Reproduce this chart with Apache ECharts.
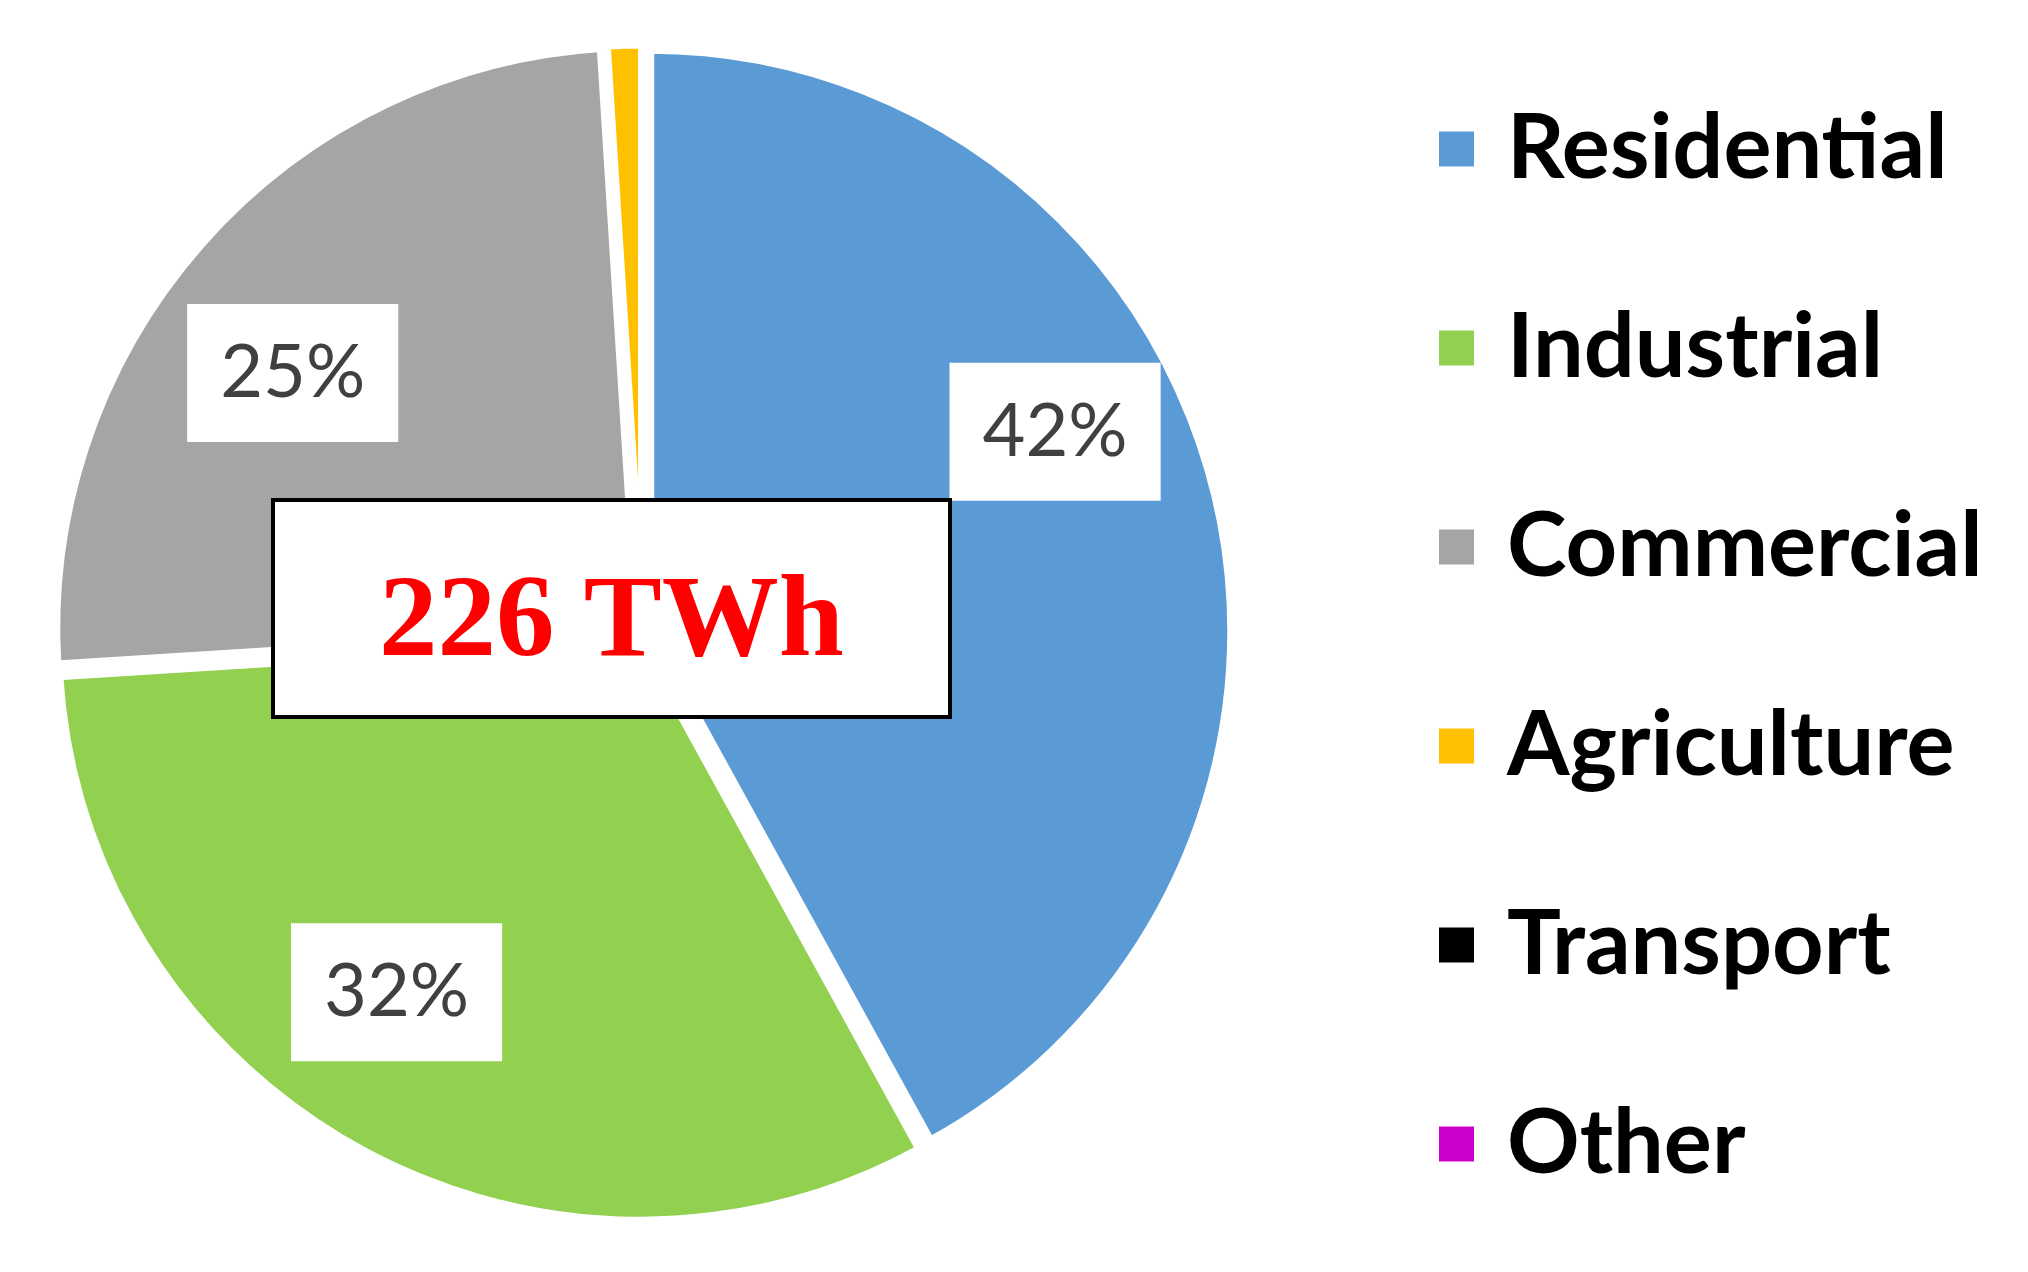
<!DOCTYPE html>
<html>
<head>
<meta charset="utf-8">
<script src="https://cdn.jsdelivr.net/npm/echarts@6/dist/echarts.min.js"></script>
<style>
html,body{margin:0;padding:0;background:#fff;}
#chart{width:2028px;height:1272px;}
</style>
</head>
<body>
<div id="chart"></div>
<script>
// ---- data ----
const categories = ['Residential', 'Industrial', 'Commercial', 'Agriculture', 'Transport', 'Other'];
const shares = [42, 32, 25, 1, 0, 0];
const totalLabel = '226 TWh';

// ---- styles ----
const colors = ['#5B9BD5', '#92D050', '#A5A5A5', '#FFC000', '#000000', '#CC00CC'];
const labelShift = [[-18, -92], [-34, -30], [-19, 32], [0, 0], [0, 0], [0, 0]];

const chart = echarts.init(document.getElementById('chart'));

const sliceData = categories.map((name, i) => ({
  name: name,
  value: shares[i],
  selected: true,
  itemStyle: { color: colors[i] }
}));
const labelData = categories.map((name, i) => ({
  name: name,
  value: shares[i],
  label: { show: shares[i] >= 5 }
}));

chart.setOption({
  animation: false,
  backgroundColor: '#ffffff',
  title: {
    text: totalLabel,
    left: 273,
    top: 500,
    padding: [66, 106, 34, 106],
    backgroundColor: '#ffffff',
    borderColor: '#000000',
    borderWidth: 4,
    textStyle: {
      fontFamily: 'Liberation Serif',
      fontWeight: 'bold',
      fontSize: 117,
      lineHeight: 117,
      color: '#FF0000'
    },
    z: 10
  },
  legend: {
    orient: 'vertical',
    left: 1437,
    top: 104,
    padding: 0,
    itemWidth: 37,
    itemHeight: 37,
    itemGap: 109,
    icon: 'rect',
    selectedMode: false,
    data: categories,
    textStyle: {
      fontFamily: 'Lato',
      fontWeight: 'bold',
      fontSize: 90,
      lineHeight: 90,
      color: '#000000',
      padding: [0, 0, 0, 27]
    }
  },
  series: [
    {
      type: 'pie',
      center: [643, 633],
      radius: [0, 582],
      startAngle: 90,
      clockwise: true,
      selectedMode: 'multiple',
      selectedOffset: 7,
      silent: true,
      emphasis: { disabled: true },
      itemStyle: { borderColor: '#ffffff', borderWidth: 9 },
      label: { show: false },
      labelLine: { show: false },
      data: sliceData
    },
    {
      type: 'pie',
      center: [644, 634],
      radius: [296, 584],
      startAngle: 90,
      clockwise: true,
      silent: true,
      percentPrecision: 0,
      emphasis: { disabled: true },
      itemStyle: { color: 'rgba(0,0,0,0)', borderWidth: 0 },
      label: {
        position: 'inside',
        formatter: '{d}%',
        fontFamily: 'Lato',
        fontSize: 74,
        lineHeight: 74,
        color: '#404040',
        backgroundColor: '#ffffff',
        padding: [32, 33, 32, 33]
      },
      labelLine: { show: false },
      labelLayout: function (p) {
        const s = labelShift[p.dataIndex] || [0, 0];
        return { dx: s[0], dy: s[1] };
      },
      data: labelData,
      z: 3
    }
  ]
});
</script>
</body>
</html>
